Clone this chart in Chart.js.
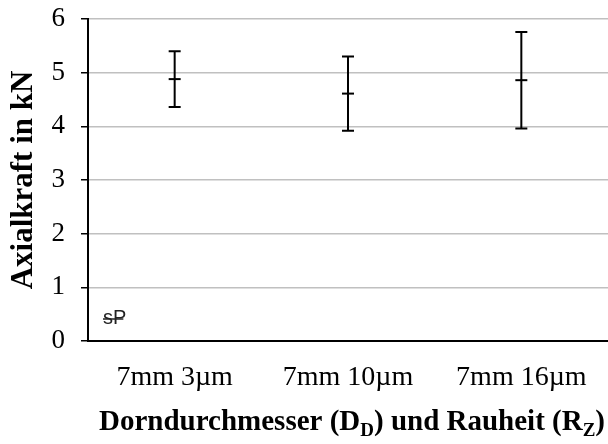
<!DOCTYPE html>
<html><head><meta charset="utf-8">
<script src="https://cdn.jsdelivr.net/npm/chart.js@4"></script>
<style>html,body{margin:0;padding:0;background:#fff;}#wrap{width:608px;height:444px;}</style>
</head><body><div id="wrap"><canvas id="c" width="608" height="444"></canvas></div>
<script>
// Axial force per mandrel diameter / roughness combination
const categories = ['7mm 3µm', '7mm 10µm', '7mm 16µm'];
const meanForce = [4.88, 4.61, 4.86];      // kN
const errorForce = [0.52, 0.69, 0.90];     // ± kN
const yTickValues = [0, 1, 2, 3, 4, 5, 6];
const yTitle = 'Axialkraft in kN';
const xTitleParts = [
  { text: 'Dorndurchmesser (D', sub: false },
  { text: 'D', sub: true },
  { text: ') und Rauheit (R', sub: false },
  { text: 'Z', sub: true },
  { text: ')', sub: false }
];
const cornerNote = 'sP';

const SERIF = '"Liberation Serif", "Times New Roman", serif';

// whiskers with caps around each mean
const errorBars = {
  id: 'errorBars',
  afterDatasetsDraw(chart) {
    const { ctx, scales: { x, y } } = chart;
    ctx.save();
    ctx.strokeStyle = '#000';
    ctx.lineWidth = 2;
    meanForce.forEach((m, i) => {
      const px = x.getPixelForValue(i);
      const top = y.getPixelForValue(m + errorForce[i]);
      const bot = y.getPixelForValue(m - errorForce[i]);
      ctx.beginPath();
      ctx.moveTo(px, top); ctx.lineTo(px, bot);
      ctx.moveTo(px - 6, top); ctx.lineTo(px + 6, top);
      ctx.moveTo(px - 6, bot); ctx.lineTo(px + 6, bot);
      ctx.stroke();
    });
    ctx.restore();
  }
};

// x-axis title with subscripts, plus the small struck-through note
const extraText = {
  id: 'extraText',
  afterDraw(chart) {
    const { ctx, chartArea } = chart;
    ctx.save();
    const mainFont = 'bold 29px ' + SERIF;
    const subFont = 'bold 19px ' + SERIF;
    let total = 0;
    xTitleParts.forEach(p => { ctx.font = p.sub ? subFont : mainFont; total += ctx.measureText(p.text).width; });
    let cx = (chartArea.left + chartArea.right) / 2 - total / 2 + 4;
    const base = 430;
    ctx.fillStyle = '#000';
    ctx.textBaseline = 'alphabetic';
    ctx.textAlign = 'left';
    xTitleParts.forEach(p => {
      ctx.font = p.sub ? subFont : mainFont;
      ctx.fillText(p.text, cx, p.sub ? base + 6 : base);
      cx += ctx.measureText(p.text).width;
    });
    // note near origin
    ctx.font = '20px "Liberation Sans", Arial, sans-serif';
    ctx.fillStyle = '#222';
    const nx = chartArea.left + 15, ny = 324;
    ctx.fillText(cornerNote, nx, ny);
    const w = ctx.measureText(cornerNote).width;
    ctx.strokeStyle = '#222';
    ctx.lineWidth = 1.5;
    ctx.beginPath();
    ctx.moveTo(nx, ny - 5); ctx.lineTo(nx + w - 3, ny - 5);
    ctx.stroke();
    ctx.restore();
  }
};

new Chart(document.getElementById('c'), {
  type: 'line',
  data: {
    labels: categories,
    datasets: [{
      data: meanForce,
      showLine: false,
      pointStyle: 'line',
      pointRadius: 6,
      pointHoverRadius: 6,
      pointBorderWidth: 2,
      borderColor: '#000',
      backgroundColor: '#000'
    }]
  },
  options: {
    responsive: false,
    animation: false,
    devicePixelRatio: 1,
    layout: { autoPadding: false, padding: { top: 19, right: 0, left: 0, bottom: 0 } },
    plugins: { legend: { display: false }, tooltip: { enabled: false } },
    scales: {
      x: {
        offset: true,
        grid: { display: false, offset: true },
        border: { display: true, color: '#000', width: 2 },
        ticks: { color: '#000', font: { family: SERIF, size: 28 }, padding: 12, maxRotation: 0 },
        afterFit(s) { s.height = 103; s.paddingLeft = 0; s.paddingRight = 0; }
      },
      y: {
        min: 0, max: 6,
        afterBuildTicks(s) { s.ticks = yTickValues.map(v => ({ value: v })); },
        grid: {
          color: c => c.tick && c.tick.value === 0 ? '#000' : '#c0c0c0',
          lineWidth: 1.5,
          tickColor: '#000',
          tickLength: 7
        },
        border: { display: true, color: '#000', width: 2 },
        ticks: { color: '#000', font: { family: SERIF, size: 27 }, padding: 16 },
        title: {
          display: true, text: yTitle, color: '#000',
          font: { family: SERIF, size: 31, weight: 'bold' }, padding: { top: 5, bottom: 0 }
        },
        afterFit(s) { s.width = 88; s.paddingTop = 0; s.paddingBottom = 0; }
      }
    }
  },
  plugins: [errorBars, extraText]
});
</script></body></html>
